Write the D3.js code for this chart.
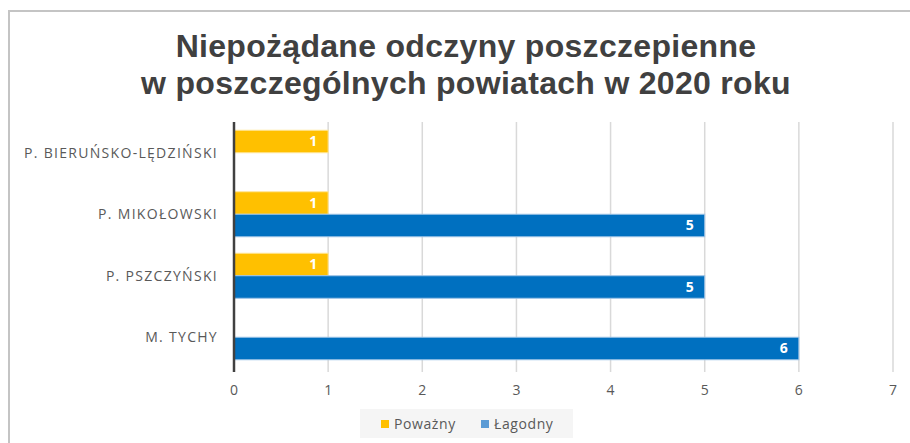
<!DOCTYPE html>
<html>
<head>
<meta charset="utf-8">
<script src="https://cdn.jsdelivr.net/npm/d3@7"></script>
<style>
  body { margin: 0; background: #fff; }
  svg { display: block; font-family: "Open Sans", "Liberation Sans", sans-serif; }
</style>
</head>
<body>
<svg id="chart" width="910" height="443"></svg>
<script>
const width = 910;
const height = 443;

const categories = ["P. BIERUŃSKO-LĘDZIŃSKI", "P. MIKOŁOWSKI", "P. PSZCZYŃSKI", "M. TYCHY"];
const seriesNames = ["Poważny", "Łagodny"];
const powazny = [1, 1, 1, 0];
const lagodny = [0, 5, 5, 6];
const xTicks = [0, 1, 2, 3, 4, 5, 6, 7];
const colors = ["#FFC000", "#0070C0"];
const legendColors = ["#FFC000", "#5B9BD5"];

const svg = d3.select("#chart");

// chart frame
svg.append("path")
    .attr("d", `M9,${height} V11 H${width}`)
    .attr("fill", "none")
    .attr("stroke", "#c4c4c4")
    .attr("stroke-width", 2);

// title
const title = svg.append("text")
    .attr("text-anchor", "middle")
    .attr("fill", "#404040")
    .attr("font-family", "'Liberation Sans', Arial, sans-serif")
    .attr("font-weight", "bold")
    .attr("font-size", "32px")
    .attr("letter-spacing", "0.3px");
title.append("tspan").attr("x", 466).attr("y", 57).text("Niepożądane odczyny poszczepienne");
title.append("tspan").attr("x", 466).attr("y", 94).text("w poszczególnych powiatach w 2020 roku");

const x = d3.scaleLinear().domain([0, 7]).range([234, 893]);
const y = d3.scaleBand().domain(categories).range([122, 368]).paddingInner(0.268).paddingOuter(0.134);
const ySub = d3.scaleBand().domain(seriesNames).range([0, y.bandwidth()]);

// gridlines
svg.append("g")
    .selectAll("line")
    .data(xTicks.slice(1))
    .join("line")
    .attr("x1", d => x(d)).attr("x2", d => x(d))
    .attr("y1", 122).attr("y2", 372)
    .attr("stroke", "#d9d9d9")
    .attr("stroke-width", 1.5);

// tick labels
svg.append("g")
    .selectAll("text")
    .data(xTicks)
    .join("text")
    .attr("x", d => x(d))
    .attr("y", 395)
    .attr("text-anchor", "middle")
    .attr("fill", "#595959")
    .attr("font-size", "14px")
    .text(d => d);

// category labels
svg.append("g")
    .selectAll("text")
    .data(categories)
    .join("text")
    .attr("x", 218)
    .attr("y", d => y(d) + y.bandwidth() / 2 + 5)
    .attr("text-anchor", "end")
    .attr("fill", "#595959")
    .attr("font-size", "14px")
    .attr("letter-spacing", "1.3px")
    .text(d => d);

// bars
const rows = categories.map((c, i) => ({ cat: c, vals: [powazny[i], lagodny[i]] }));
const group = svg.append("g")
    .selectAll("g")
    .data(rows)
    .join("g")
    .attr("transform", d => `translate(0,${y(d.cat)})`);

const cells = group.selectAll("g")
    .data(d => d.vals.map((v, j) => ({ v, j })).filter(e => e.v > 0))
    .join("g");

cells.append("rect")
    .attr("x", x(0))
    .attr("y", d => ySub(seriesNames[d.j]))
    .attr("width", d => x(d.v) - x(0))
    .attr("height", ySub.bandwidth())
    .attr("fill", d => colors[d.j])
    .attr("stroke", d => d.j === 0 ? "#ffe699" : "#9dc3e6")
    .attr("stroke-width", 1);

cells.append("text")
    .attr("x", d => x(d.v) - 11)
    .attr("y", d => ySub(seriesNames[d.j]) + ySub.bandwidth() / 2 + 5)
    .attr("text-anchor", "end")
    .attr("fill", "#fff")
    .attr("font-weight", "bold")
    .attr("font-size", "14px")
    .text(d => d.v);

// value axis line
svg.append("line")
    .attr("x1", x(0)).attr("x2", x(0))
    .attr("y1", 122).attr("y2", 372)
    .attr("stroke", "#404040")
    .attr("stroke-width", 2.5);

// legend
const legend = svg.append("g");
legend.append("rect")
    .attr("x", 360).attr("y", 409)
    .attr("width", 213).attr("height", 29)
    .attr("fill", "#f5f5f5");
const items = [{ name: seriesNames[0], x: 381 }, { name: seriesNames[1], x: 481 }];
items.forEach((it, i) => {
    legend.append("rect")
        .attr("x", it.x).attr("y", 420)
        .attr("width", 8).attr("height", 8)
        .attr("fill", legendColors[i]);
    legend.append("text")
        .attr("x", it.x + 13).attr("y", 429)
        .attr("fill", "#595959")
        .attr("font-size", "14px")
        .attr("letter-spacing", "0.6px")
        .text(it.name);
});
</script>
</body>
</html>
